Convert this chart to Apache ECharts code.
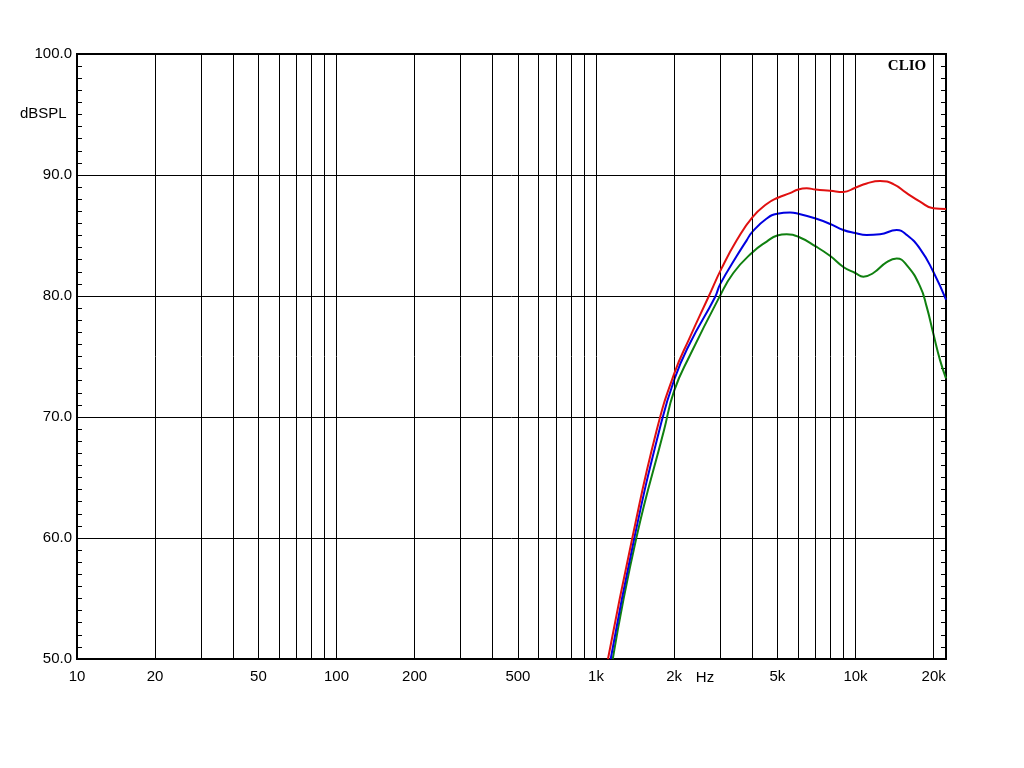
<!DOCTYPE html>
<html>
<head>
<meta charset="utf-8">
<script src="https://cdn.jsdelivr.net/npm/echarts@6/dist/echarts.min.js"></script>
<style>html,body{margin:0;padding:0;background:#fff;}#c{width:1024px;height:768px;}</style>
</head>
<body>
<div id="c"></div>
<script>
// Frequency grid lines (Hz) and labelled frequencies
const gridFreqs = [20,30,40,50,60,70,80,90,100,200,300,400,500,600,700,800,900,1000,2000,3000,4000,5000,6000,7000,8000,9000,10000,20000];
const labelFreqs = [10,20,50,100,200,500,1000,2000,5000,10000,20000];
const labelTexts = ['10','20','50','100','200','500','1k','2k','5k','10k','20k'];

// Series: [frequency Hz, dBSPL]
const redCurve = [[1112,50],[1380,60],[1713,68.9],[2003,73.6],[2302,76.6],[2709,79.9],[3050,82.3],[3485,84.6],[4003,86.5],[4548,87.6],[4995,88.1],[5592,88.5],[6020,88.8],[6484,88.9],[7025,88.8],[7995,88.7],[8975,88.6],[9983,88.95],[11040,89.3],[12430,89.5],[13990,89.25],[15750,88.5],[17730,87.8],[19940,87.25],[22320,87.2]];
const blueCurve = [[1139,50],[1405,60],[1754,68.9],[2003,73.1],[2302,76.1],[2874,79.9],[3013,81.0],[3485,83.3],[3807,84.6],[4003,85.3],[4548,86.4],[4995,86.8],[5592,86.9],[6020,86.8],[7025,86.4],[7995,85.95],[8975,85.45],[9983,85.2],[11040,85.05],[12430,85.1],[14410,85.45],[15750,85.05],[17730,83.9],[19940,82.0],[22320,79.7]];
const greenCurve = [[1160,50],[1430,60],[1828,68.9],[2003,72.2],[2302,75.1],[2986,79.9],[3382,81.9],[4003,83.6],[4548,84.5],[4995,85.0],[5430,85.1],[6020,84.9],[7025,84.1],[7995,83.3],[8975,82.4],[9983,81.9],[10720,81.6],[11710,81.9],[13190,82.8],[14410,83.1],[15750,82.55],[17730,80.8],[18810,79.1],[19940,76.9],[21170,74.7],[22320,73.2]];

const FONT = 'Liberation Sans';
const chart = echarts.init(document.getElementById('c'), null, {renderer:'canvas'});

const gridLines = gridFreqs.map(f => ({xAxis: f, label: {show: false}}));
const labelLines = labelFreqs.map((f, i) => ({
  xAxis: f,
  lineStyle: {color: 'rgba(0,0,0,0)'},
  label: {show: true, position: 'start', formatter: labelTexts[i], distance: 10,
          color: '#000', fontFamily: FONT, fontSize: 15}
}));

const option = {
  animation: false,
  backgroundColor: '#fff',
  grid: {left: 77, right: 78, top: 54, bottom: 109, show: true, borderColor: '#000', borderWidth: 2, backgroundColor: 'transparent'},
  xAxis: {
    type: 'log', logBase: 10, min: 10, max: 22320,
    axisLine: {show: false}, axisTick: {show: false}, axisLabel: {show: false}, splitLine: {show: false}
  },
  yAxis: [{
    type: 'value', min: 50, max: 100, interval: 10,
    axisLine: {show: false},
    axisTick: {show: true, inside: true, length: 6, lineStyle: {color: '#000'}},
    minorTick: {show: true, splitNumber: 10, length: 5, lineStyle: {color: '#000'}},
    axisLabel: {color: '#000', fontFamily: FONT, fontSize: 15, margin: 5, formatter: v => v.toFixed(1)},
    splitLine: {show: true, lineStyle: {color: '#000', width: 1}}
  }, {
    type: 'value', min: 50, max: 100, interval: 10, position: 'right',
    axisLine: {show: false},
    axisTick: {show: true, inside: true, length: 6, lineStyle: {color: '#000'}},
    minorTick: {show: true, splitNumber: 10, length: 5, lineStyle: {color: '#000'}},
    axisLabel: {show: false}, splitLine: {show: false}
  }],
  graphic: [
    {type: 'text', left: 20, top: 106, style: {text: 'dBSPL', fill: '#000', font: '15px "Liberation Sans"'}},
    {type: 'text', x: 705, y: 678, style: {text: 'Hz', fill: '#000', font: '15px "Liberation Sans"', align: 'center', verticalAlign: 'middle'}},
    {type: 'text', x: 907, y: 66, style: {text: 'CLIO', fill: '#000', font: 'bold 15px "Liberation Serif"', align: 'center', verticalAlign: 'middle'}}
  ],
  series: [
    {type: 'line', data: [], z: 1, silent: true,
     markLine: {silent: true, symbol: ['none','none'], animation: false,
       lineStyle: {color: '#000', width: 1, type: 'solid'},
       emphasis: {disabled: true},
       data: gridLines.concat(labelLines)}},
    {name: 'green', type: 'line', data: greenCurve, smooth: 0.5, showSymbol: false, z: 3,
     lineStyle: {color: '#108010', width: 2}, itemStyle: {color: '#108010'}},
    {name: 'blue', type: 'line', data: blueCurve, smooth: 0.5, showSymbol: false, z: 4,
     lineStyle: {color: '#0000e0', width: 2}, itemStyle: {color: '#0000e0'}},
    {name: 'red', type: 'line', data: redCurve, smooth: 0.5, showSymbol: false, z: 5,
     lineStyle: {color: '#e01010', width: 2}, itemStyle: {color: '#e01010'}}
  ]
};
chart.setOption(option);
</script>
</body>
</html>
